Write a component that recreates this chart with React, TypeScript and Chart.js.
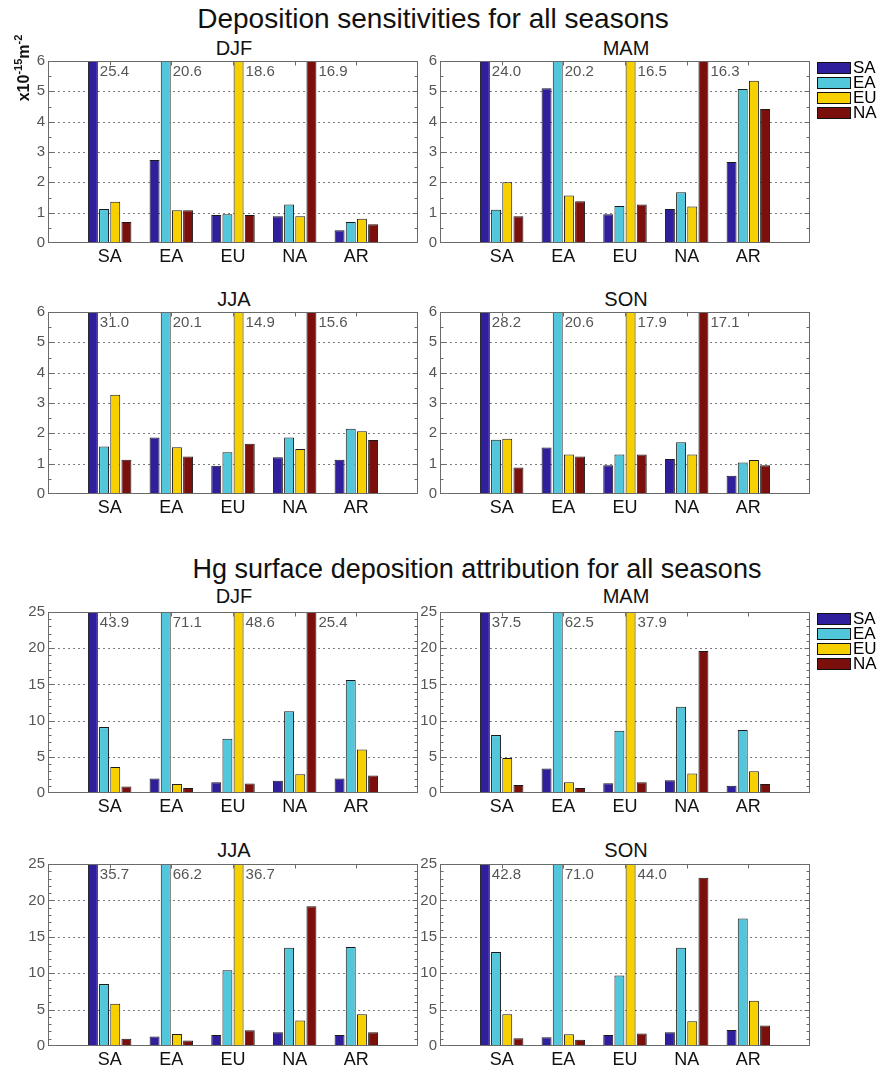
import React, { useEffect, useRef } from "react";
import { Chart, registerables } from "chart.js";
Chart.register(...registerables);

const FONT = '"Liberation Sans", Arial, Helvetica, sans-serif';

// Receptor regions (categories) and source regions (series)
const regions = ["SA", "EA", "EU", "NA", "AR"];
const sources = ["SA", "EA", "EU", "NA"];
const sourceColors = ["#2F1F9C", "#52C7DB", "#F7D000", "#7A0F0B"];
const seasons = ["DJF", "MAM", "JJA", "SON"];

// ---- Deposition sensitivities (x10^-15 m^-2), values at receptors SA, EA, EU, NA, AR
const sensDJF_SA = [25.4, 2.74, 0.92, 0.88, 0.42];
const sensDJF_EA = [1.12, 20.6, 0.95, 1.27, 0.69];
const sensDJF_EU = [1.36, 1.08, 18.6, 0.88, 0.8];
const sensDJF_NA = [0.69, 1.08, 0.92, 16.9, 0.62];

const sensMAM_SA = [24.0, 5.1, 0.95, 1.12, 2.67];
const sensMAM_EA = [1.1, 20.2, 1.22, 1.67, 5.08];
const sensMAM_EU = [2.0, 1.57, 16.5, 1.2, 5.35];
const sensMAM_NA = [0.88, 1.38, 1.27, 16.3, 4.42];

const sensJJA_SA = [31.0, 1.86, 0.93, 1.21, 1.13];
const sensJJA_EA = [1.57, 20.1, 1.38, 1.86, 2.15];
const sensJJA_EU = [3.27, 1.54, 14.9, 1.48, 2.07];
const sensJJA_NA = [1.13, 1.24, 1.66, 15.6, 1.78];

const sensSON_SA = [28.2, 1.53, 0.95, 1.15, 0.6];
const sensSON_EA = [1.79, 20.6, 1.3, 1.71, 1.04];
const sensSON_EU = [1.82, 1.3, 17.9, 1.3, 1.12];
const sensSON_NA = [0.87, 1.24, 1.3, 17.1, 0.95];

// ---- Hg surface deposition attribution, values at receptors SA, EA, EU, NA, AR
const attrDJF_SA = [43.9, 2.0, 1.5, 1.7, 2.0];
const attrDJF_EA = [9.1, 71.1, 7.5, 11.3, 15.6];
const attrDJF_EU = [3.6, 1.25, 48.6, 2.6, 6.0];
const attrDJF_NA = [0.9, 0.7, 1.3, 25.4, 2.4];

const attrMAM_SA = [37.5, 3.4, 1.35, 1.75, 1.0];
const attrMAM_EA = [8.0, 62.5, 8.6, 11.9, 8.7];
const attrMAM_EU = [4.85, 1.5, 37.9, 2.7, 3.0];
const attrMAM_NA = [1.1, 0.7, 1.5, 19.6, 1.25];

const attrJJA_SA = [35.7, 1.3, 1.5, 1.9, 1.5];
const attrJJA_EA = [8.5, 66.2, 10.4, 13.5, 13.6];
const attrJJA_EU = [5.8, 1.65, 36.7, 3.5, 4.35];
const attrJJA_NA = [1.0, 0.75, 2.15, 19.2, 1.9];

const attrSON_SA = [42.8, 1.2, 1.5, 1.9, 2.2];
const attrSON_EA = [12.9, 71.0, 9.7, 13.5, 17.5];
const attrSON_EU = [4.35, 1.6, 44.0, 3.4, 6.2];
const attrSON_NA = [1.05, 0.85, 1.7, 23.1, 2.8];

const sensSeries = [
  [sensDJF_SA, sensDJF_EA, sensDJF_EU, sensDJF_NA],
  [sensMAM_SA, sensMAM_EA, sensMAM_EU, sensMAM_NA],
  [sensJJA_SA, sensJJA_EA, sensJJA_EU, sensJJA_NA],
  [sensSON_SA, sensSON_EA, sensSON_EU, sensSON_NA],
];
const attrSeries = [
  [attrDJF_SA, attrDJF_EA, attrDJF_EU, attrDJF_NA],
  [attrMAM_SA, attrMAM_EA, attrMAM_EU, attrMAM_NA],
  [attrJJA_SA, attrJJA_EA, attrJJA_EU, attrJJA_NA],
  [attrSON_SA, attrSON_EA, attrSON_EU, attrSON_NA],
];

const sensTicks = { max: 6, step: 1, minor: 0.5 };
const attrTicks = { max: 25, step: 5, minor: 1 };

type Rect = { left: number; top: number; right: number; bottom: number };

function makeDeco(yCfg: { max: number; step: number; minor: number }, legend: boolean) {
  return {
    id: "deco",
    beforeDatasetsDraw(chart: any) {
      const { ctx, chartArea: a, scales } = chart;
      const y = scales.y;
      ctx.save();
      ctx.strokeStyle = "#7c7c7c";
      ctx.lineWidth = 1;
      ctx.setLineDash([2, 3]);
      y.ticks.forEach((t: any) => {
        if (t.value <= y.min || t.value >= y.max) return;
        const py = Math.round(y.getPixelForValue(t.value)) + 0.5;
        ctx.beginPath();
        ctx.moveTo(a.left, py);
        ctx.lineTo(a.right, py);
        ctx.stroke();
      });
      ctx.restore();
    },
    afterDatasetsDraw(chart: any) {
      const { ctx, chartArea: a, scales } = chart;
      const y = scales.y;
      const x = scales.x;
      ctx.save();
      ctx.strokeStyle = "#6a6a6a";
      ctx.lineWidth = 1;
      const L = Math.round(a.left) + 0.5;
      const R = Math.round(a.right) - 0.5;
      const T = Math.round(a.top) + 0.5;
      const B = Math.round(a.bottom) - 0.5;
      ctx.strokeRect(L, T, R - L, B - T);
      // minor + major ticks on left / right
      const nMinor = Math.round(yCfg.max / yCfg.minor);
      for (let k = 1; k < nMinor; k++) {
        const v = k * yCfg.minor;
        const py = Math.round(y.getPixelForValue(v)) + 0.5;
        const major = Math.abs(v / yCfg.step - Math.round(v / yCfg.step)) < 1e-6;
        const len = major ? 5 : 3;
        ctx.beginPath();
        ctx.moveTo(L, py);
        ctx.lineTo(L + len, py);
        ctx.moveTo(R, py);
        ctx.lineTo(R - len, py);
        ctx.stroke();
      }
      // category ticks on top edge
      for (let i = 1; i <= regions.length; i++) {
        const px = Math.round(x.getPixelForValue(i)) + 0.5;
        ctx.beginPath();
        ctx.moveTo(px, T);
        ctx.lineTo(px, T + 4);
        ctx.stroke();
      }
      // values of bars that exceed the axis
      ctx.font = `15px ${FONT}`;
      ctx.fillStyle = "#555";
      ctx.textBaseline = "alphabetic";
      ctx.textAlign = "left";
      chart.data.datasets.forEach((ds: any, i: number) => {
        const meta = chart.getDatasetMeta(i);
        ds.data.forEach((v: any, j: number) => {
          if (v == null || v <= y.max) return;
          const el = meta.data[j];
          ctx.fillText(v.toFixed(1), el.x + el.width / 2 + 2, a.top + 15);
        });
      });
      if (legend) {
        ctx.font = `17px ${FONT}`;
        chart.data.datasets.forEach((ds: any, i: number) => {
          const x0 = Math.round(a.right) + 7;
          const y0 = Math.round(a.top) + 1 + i * 15;
          ctx.fillStyle = ds.backgroundColor;
          ctx.fillRect(x0, y0, 34, 12);
          ctx.strokeStyle = "#111";
          ctx.strokeRect(x0 + 0.5, y0 + 0.5, 33, 11);
          ctx.fillStyle = "#000";
          ctx.textBaseline = "middle";
          ctx.fillText(ds.label, x0 + 36, y0 + 6.5);
        });
      }
      ctx.restore();
    },
  };
}

function Panel(props: {
  series: number[][];
  yCfg: { max: number; step: number; minor: number };
  plot: Rect;
  canvasLeft: number;
  canvasRight: number;
  legend: boolean;
}) {
  const { series, yCfg, plot, canvasLeft, canvasRight, legend } = props;
  const ref = useRef<HTMLCanvasElement>(null);
  const padTop = 16;
  const xHeight = 26;
  const width = canvasRight - canvasLeft;
  const height = plot.bottom - plot.top + padTop + xHeight + 2;
  const padLeft = 2;
  const yWidth = plot.left - canvasLeft - padLeft;
  const padRight = canvasRight - plot.right;

  useEffect(() => {
    const chart = new Chart(ref.current as HTMLCanvasElement, {
      type: "bar",
      data: {
        labels: ["", ...regions, ""],
        datasets: sources.map((s, i) => ({
          label: s,
          data: [null, ...series[i], null],
          backgroundColor: sourceColors[i],
          borderColor: "#1a1a1a",
          borderWidth: 1,
          borderSkipped: "start",
          clip: 0,
          categoryPercentage: 0.725,
          barPercentage: 0.89,
        })) as any,
      },
      options: {
        responsive: false,
        animation: false,
        events: [],
        layout: { padding: { left: padLeft, right: padRight, top: padTop, bottom: 2 } },
        plugins: { legend: { display: false }, tooltip: { enabled: false } },
        scales: {
          x: {
            offset: false,
            grid: { display: false, drawTicks: false },
            border: { display: false },
            ticks: {
              autoSkip: false,
              maxRotation: 0,
              color: "#111",
              font: { family: FONT, size: 18 },
              padding: 3,
            },
            afterFit: (s: any) => {
              s.height = xHeight;
            },
          },
          y: {
            min: 0,
            max: yCfg.max,
            grid: { display: false, drawTicks: false },
            border: { display: false },
            ticks: {
              stepSize: yCfg.step,
              color: "#555",
              font: { family: FONT, size: 15 },
              padding: 3,
            },
            afterFit: (s: any) => {
              s.width = yWidth;
            },
          },
        },
      } as any,
      plugins: [makeDeco(yCfg, legend) as any],
    });
    return () => chart.destroy();
  }, []);

  return (
    <canvas
      ref={ref}
      width={width}
      height={height}
      style={{ position: "absolute", left: canvasLeft, top: plot.top - padTop, width, height }}
    />
  );
}

function Text(props: { text: any; cx: number; baseline: number; size: number; scaleX?: number }) {
  const { text, cx, baseline, size, scaleX } = props;
  return (
    <div
      style={{
        position: "absolute",
        left: cx - 400,
        width: 800,
        top: baseline - 0.8465 * size,
        fontSize: size,
        lineHeight: `${size}px`,
        textAlign: "center",
        fontFamily: FONT,
        color: "#111",
        whiteSpace: "nowrap",
      }}
    >
      <span style={{ display: "inline-block", transform: `scaleX(${scaleX ?? 1})` }}>{text}</span>
    </div>
  );
}

const LEFT_X = { left: 48, right: 418, cl: 2, cr: 430 };
const RIGHT_X = { left: 440, right: 810, cl: 418, cr: 880 };
const rowsTop = [
  { top: 61, bottom: 243, titleBase: 55 },
  { top: 312, bottom: 494, titleBase: 306 },
];
const rowsBottom = [
  { top: 612, bottom: 793, titleBase: 603 },
  { top: 864, bottom: 1046, titleBase: 857 },
];

export default function App() {
  const panels: any[] = [];
  const titles: any[] = [];
  const addBlock = (rows: any[], data: number[][][], yCfg: any, prefix: string) => {
    seasons.forEach((s, k) => {
      const row = rows[Math.floor(k / 2)];
      const col = k % 2 === 0 ? LEFT_X : RIGHT_X;
      panels.push(
        <Panel
          key={prefix + s}
          series={data[k]}
          yCfg={yCfg}
          plot={{ left: col.left, right: col.right, top: row.top, bottom: row.bottom }}
          canvasLeft={col.cl}
          canvasRight={col.cr}
          legend={k === 1}
        />
      );
      titles.push(
        <Text key={prefix + "t" + s} text={s} cx={(col.left + col.right) / 2 + 1} baseline={row.titleBase} size={20} />
      );
    });
  };
  addBlock(rowsTop, sensSeries, sensTicks, "s");
  addBlock(rowsBottom, attrSeries, attrTicks, "a");

  const supStyle = { fontSize: 11, verticalAlign: "7px", lineHeight: 0 } as any;
  return (
    <div style={{ position: "absolute", left: 0, top: 0, width: 880, height: 1066, background: "#fff", overflow: "hidden" }}>
      <Text text="Deposition sensitivities for all seasons" cx={433} baseline={29} size={28} />
      <Text text="Hg surface deposition attribution for all seasons" cx={477} baseline={579} size={27} />
      {titles}
      {panels}
      <div
        style={{
          position: "absolute",
          left: 24 - 60,
          top: 68 - 10,
          width: 120,
          height: 20,
          lineHeight: "20px",
          textAlign: "center",
          transform: "rotate(-90deg)",
          fontFamily: FONT,
          fontWeight: "bold",
          fontSize: 16,
          color: "#111",
          whiteSpace: "nowrap",
        }}
      >
        x10<sup style={supStyle}>-15</sup>m<sup style={supStyle}>-2</sup>
      </div>
    </div>
  );
}
